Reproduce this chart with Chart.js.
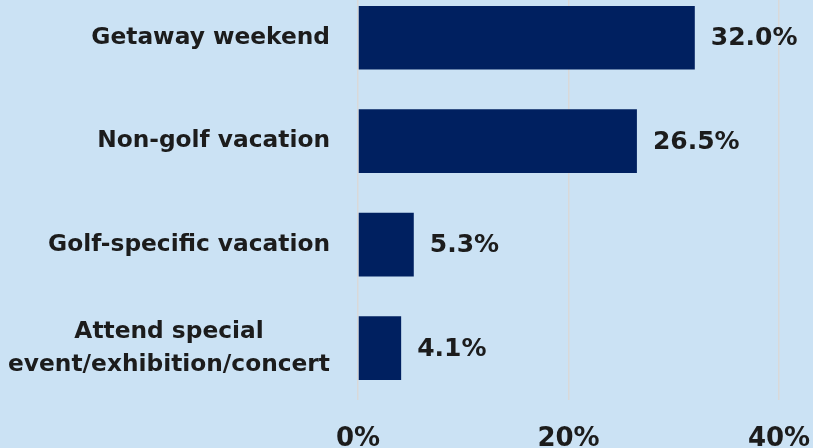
<!DOCTYPE html>
<html>
<head>
<meta charset="utf-8">
<script src="https://cdn.jsdelivr.net/npm/chart.js@4.4.1/dist/chart.umd.min.js"></script>
<style>
  html, body { margin: 0; padding: 0; background: #cbe2f4; overflow: hidden; }
  #wrap { position: absolute; left: 0; top: -14px; width: 813px; height: 493px; }
</style>
</head>
<body>
<div id="wrap"><canvas id="chart"></canvas></div>
<script>
const CATEGORIES = [
  "Getaway weekend",
  "Non-golf vacation",
  "Golf-specific vacation",
  ["Attend special", "event/exhibition/concert"],
];
const SHARES = [32.0, 26.5, 5.3, 4.1];
const X_TICKS = [0, 20, 40];

const FONT = "'DejaVu Sans', sans-serif";
const TEXT = "#1c1c1c";

// category labels: single lines right aligned, wrapped ones centred on each other
const catLabels = {
  id: "catLabels",
  afterDraw(chart) {
    const { ctx, scales: { y } } = chart;
    const right = y.right - 28;
    ctx.save();
    ctx.font = "bold 23.3px " + FONT;
    ctx.fillStyle = TEXT;
    ctx.textBaseline = "middle";
    CATEGORIES.forEach((lab, i) => {
      const cy = y.getPixelForValue(i);
      if (Array.isArray(lab)) {
        const w = Math.max(...lab.map((l) => ctx.measureText(l).width));
        ctx.textAlign = "center";
        const lh = 33;
        lab.forEach((l, j) => {
          ctx.fillText(l, right - w / 2, cy + (j - (lab.length - 1) / 2) * lh);
        });
      } else {
        ctx.textAlign = "right";
        ctx.fillText(lab, right, cy);
      }
    });
    ctx.restore();
  },
};

// value labels at the end of each bar
const valueLabels = {
  id: "valueLabels",
  afterDatasetsDraw(chart) {
    const { ctx } = chart;
    const meta = chart.getDatasetMeta(0);
    ctx.save();
    ctx.font = "bold 25px " + FONT;
    ctx.fillStyle = TEXT;
    ctx.textAlign = "left";
    ctx.textBaseline = "middle";
    meta.data.forEach((bar, i) => {
      ctx.fillText(SHARES[i].toFixed(1) + "%", bar.x + 16, bar.y + 1);
    });
    ctx.restore();
  },
};

new Chart(document.getElementById("chart"), {
  type: "bar",
  data: {
    labels: CATEGORIES,
    datasets: [{
      data: SHARES,
      backgroundColor: "#002060",
      barPercentage: 0.615,
      categoryPercentage: 1,
    }],
  },
  options: {
    indexAxis: "y",
    responsive: true,
    maintainAspectRatio: false,
    animation: false,
    layout: { padding: { right: 34, top: 0, bottom: 0 } },
    plugins: { legend: { display: false }, tooltip: { enabled: false } },
    scales: {
      x: {
        min: 0,
        max: 40,
        afterBuildTicks: (s) => { s.ticks = X_TICKS.map((v) => ({ value: v })); },
        afterFit: (s) => { s.paddingLeft = 0; s.paddingRight = 0; },
        border: { display: false },
        grid: { color: "#d9d9d9", lineWidth: 1.5, drawTicks: false },
        ticks: {
          padding: 24,
          color: TEXT,
          font: { family: FONT, size: 26, weight: "bold" },
          callback: (v) => v + "%",
        },
      },
      y: {
        afterFit: (s) => { s.width = 358; },
        border: { display: false },
        grid: { display: false },
        ticks: { display: false },
      },
    },
  },
  plugins: [catLabels, valueLabels],
});
</script>
</body>
</html>
